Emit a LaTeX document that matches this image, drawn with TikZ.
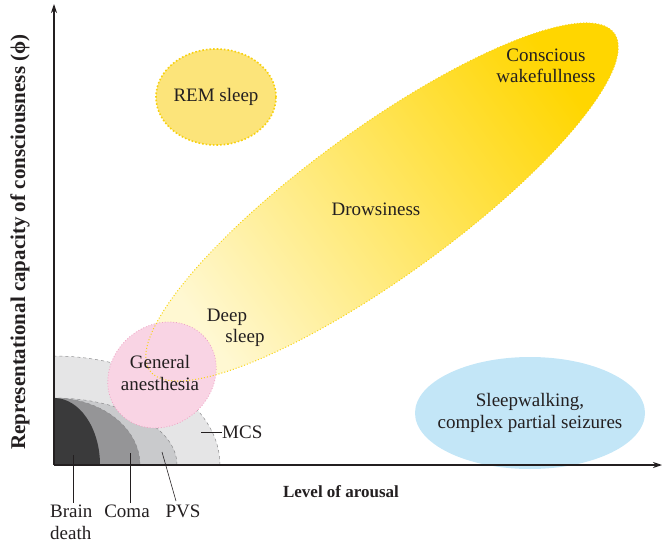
\documentclass[tikz,border=0pt]{standalone}
\usepackage{fontspec}
\setmainfont{Liberation Serif}
\usetikzlibrary{arrows.meta,shapes.geometric}
\definecolor{txt}{HTML}{231F20}
\definecolor{bdgray}{HTML}{3A3A3B}
\definecolor{comagray}{HTML}{959597}
\definecolor{pvsgray}{HTML}{C9CACC}
\definecolor{mcsgray}{HTML}{E5E5E6}
\definecolor{edgegray}{HTML}{8C8C8E}
\definecolor{paleyel}{HTML}{FFF8D2}
\definecolor{goldyel}{HTML}{FFD600}
\definecolor{yelline}{HTML}{F8D414}
\definecolor{remfill}{HTML}{FCE47A}
\definecolor{remline}{HTML}{F7D00F}
\definecolor{pinkfill}{HTML}{F9D4E4}
\definecolor{pinkline}{HTML}{EEA2C3}
\definecolor{bluefill}{HTML}{C3E6F7}
\begin{document}
\begin{tikzpicture}[x=1pt,y=1pt,
  lbl/.style={font=\fontsize{19}{21.5}\selectfont, text=txt, align=center, inner sep=0pt},
  axlbl/.style={font=\fontsize{17}{20}\selectfont\bfseries, text=txt, inner sep=0pt},
  regionedge/.style={draw=edgegray, dashed, line width=0.5pt},
  leader/.style={draw=txt, line width=0.6pt},
  axisline/.style={draw=txt, line width=1.1pt, -{Stealth[length=9pt,width=6pt]}}]
\useasboundingbox (0,0) rectangle (663,547);
\coordinate (O) at (54,82);
% grey regions
\fill[mcsgray] (O) -- (220,82) arc[start angle=0,end angle=90,x radius=166,y radius=109] -- cycle;
\path[regionedge] (220,82) arc[start angle=0,end angle=90,x radius=166,y radius=109];
\fill[pvsgray] (O) -- (177,82) arc[start angle=0,end angle=90,x radius=123,y radius=67] -- cycle;
\path[regionedge] (177,82) arc[start angle=0,end angle=90,x radius=123,y radius=67];
\fill[comagray] (O) -- (140,82) arc[start angle=0,end angle=90,x radius=86,y radius=67] -- cycle;
\path[regionedge] (140,82) arc[start angle=0,end angle=90,x radius=86,y radius=67];
\fill[bdgray] (O) -- (100,82) arc[start angle=0,end angle=90,x radius=46,y radius=67] -- cycle;
% blue region
\node[ellipse, fill=bluefill, minimum width=230pt, minimum height=112pt, inner sep=0pt] (blue) at (530,134) {};
% big yellow ellipse
\shade[top color=goldyel, bottom color=paleyel, shading angle=-54]
  (382,345) ellipse [x radius=287, y radius=74, rotate=36];
% pink
\fill[pinkfill] (162,172) ellipse [x radius=57, y radius=50, rotate=40];
\draw[pinkline, dotted, line width=0.8pt] (162,172) ellipse [x radius=57, y radius=50, rotate=40];
\draw[yelline, dotted, line width=1pt] (382,345) ellipse [x radius=287, y radius=74, rotate=36];
% REM
\node[ellipse, fill=remfill, draw=remline, dotted, line width=1.6pt, minimum width=120pt, minimum height=96pt, inner sep=0pt] (rem) at (216,450) {};
% axes
\coordinate (ytop) at (54,543);
\coordinate (xend) at (662,82);
\draw[axisline] (O) -- (ytop);
\draw[axisline] (O) -- (xend);
% texts
\node[lbl] (remt) at (rem.center) {REM sleep};
\node[lbl] (cw) at (546,481) {Conscious\\wakefullness};
\node[lbl] (drow) at (376,338) {Drowsiness};
\node[lbl] (deep) at (227,219) {Deep\\\hspace*{36pt}sleep};
\node[lbl] (ga) at (160,174) {General\\anesthesia};
\node[lbl] (sw) at (blue.center) {Sleepwalking,\\complex partial seizures};
\node[lbl, anchor=west] (mcs) at (222,115) {MCS};
\node[lbl, anchor=north west, align=left] (bdl) at (50,42) {Brain\\death};
\node[lbl, anchor=north] (coma) at (127,42) {Coma};
\node[lbl, anchor=north] (pvs) at (183,42) {PVS};
\node[axlbl] (xl) at (341,55) {Level of arousal};
\node[axlbl, font=\fontsize{21}{24}\selectfont\bfseries, rotate=90] (yl) at (20,305) {Representational capacity of consciousness (ϕ)};
% leaders
\coordinate (bdp) at (73,92);
\coordinate (bdq) at (73,44);
\coordinate (cop) at (130,94);
\coordinate (coq) at (130,44);
\coordinate (pvp) at (162,95);
\coordinate (pvq) at (176,46);
\coordinate (mcp) at (201,115);
\draw[leader] (bdp) -- (bdq);
\draw[leader] (cop) -- (coq);
\draw[leader] (pvp) -- (pvq);
\draw[leader] (mcp) -- (mcs.west);
\end{tikzpicture}
\end{document}
